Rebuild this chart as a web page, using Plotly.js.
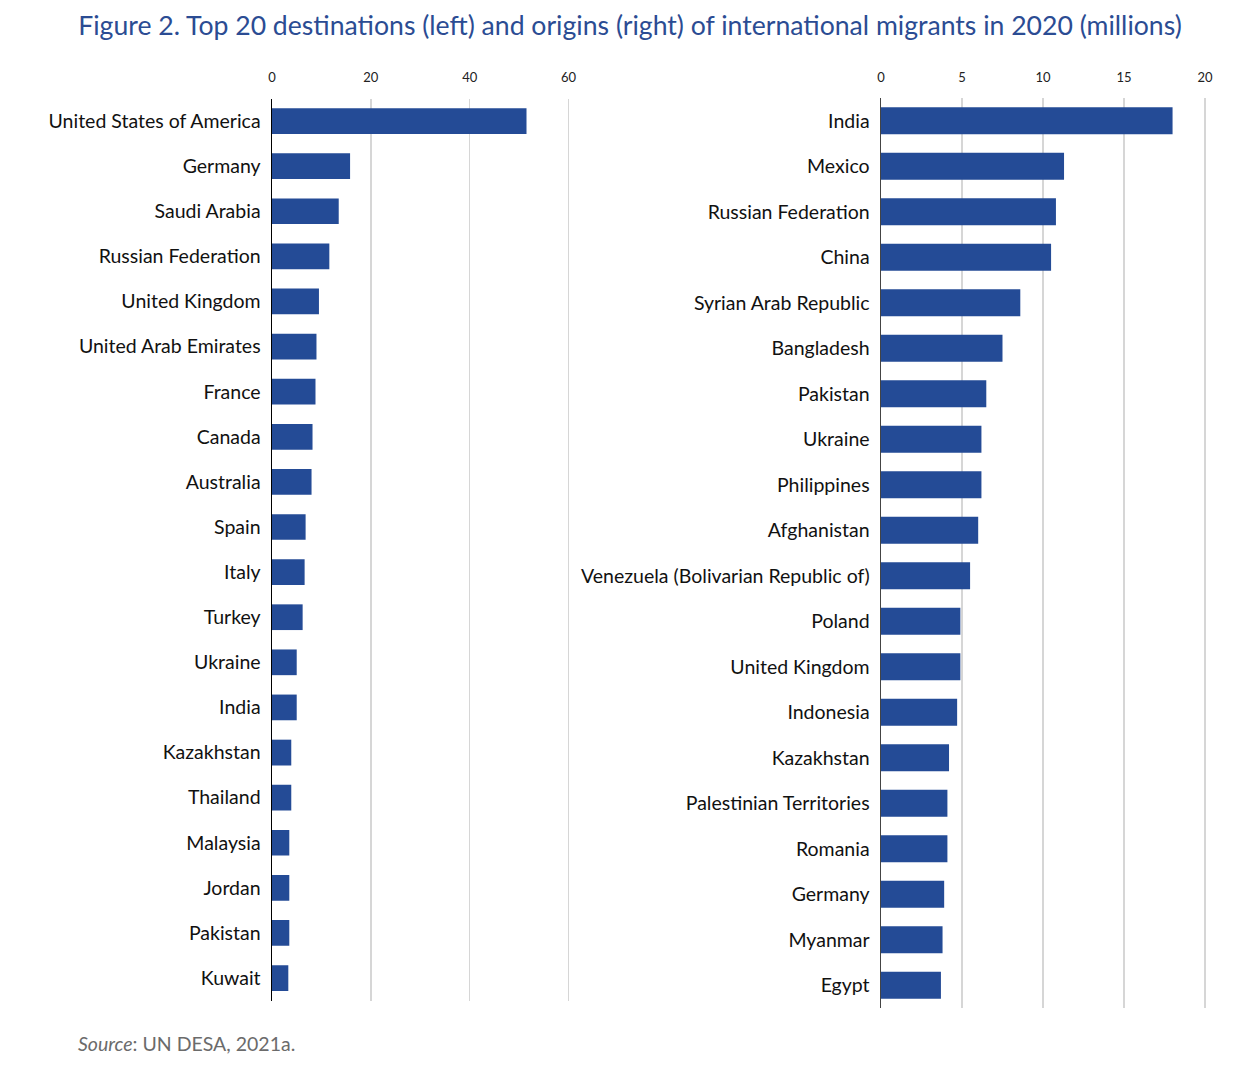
<!DOCTYPE html>
<html>
<head>
<meta charset="utf-8">
<script src="https://cdn.plot.ly/plotly-3.0.1.min.js"></script>
<style>
html,body{margin:0;padding:0;background:#fff;}
#chart{width:1260px;height:1074px;}
</style>
</head>
<body>
<div id="chart"></div>
<script>
var destinations = ["United States of America","Germany","Saudi Arabia","Russian Federation","United Kingdom","United Arab Emirates","France","Canada","Australia","Spain","Italy","Turkey","Ukraine","India","Kazakhstan","Thailand","Malaysia","Jordan","Pakistan","Kuwait"];
var destValues = [51.5,15.8,13.5,11.6,9.5,9.0,8.8,8.2,8.0,6.8,6.6,6.2,5.0,5.0,3.9,3.9,3.5,3.5,3.5,3.3];

var origins = ["India","Mexico","Russian Federation","China","Syrian Arab Republic","Bangladesh","Pakistan","Ukraine","Philippines","Afghanistan","Venezuela (Bolivarian Republic of)","Poland","United Kingdom","Indonesia","Kazakhstan","Palestinian Territories","Romania","Germany","Myanmar","Egypt"];
var originValues = [18.0,11.3,10.8,10.5,8.6,7.5,6.5,6.2,6.2,6.0,5.5,4.9,4.9,4.7,4.2,4.1,4.1,3.9,3.8,3.7];

var leftTicks = [0,20,40,60];
var rightTicks = [0,5,10,15,20];

var barColor = "#244b96";
var font = "Lato, 'Open Sans', sans-serif";

var traces = [
  {type:"bar", orientation:"h", x:destValues, y:destinations, xaxis:"x", yaxis:"y",
   marker:{color:barColor}, width:0.57, hoverinfo:"x+y"},
  {type:"bar", orientation:"h", x:originValues, y:origins, xaxis:"x2", yaxis:"y2",
   marker:{color:barColor}, width:0.59, hoverinfo:"x+y"}
];

var layout = {
  width:1260, height:1074,
  margin:{l:0,r:0,t:0,b:0},
  paper_bgcolor:"#fff", plot_bgcolor:"#fff",
  showlegend:false,
  font:{family:font, color:"#111"},
  xaxis:{domain:[272/1260, 570/1260], range:[0,60.3], side:"top", tickvals:leftTicks,
    showgrid:true, gridcolor:"#d6d6d6", gridwidth:1.5, zeroline:false, showline:false,
    ticks:"outside", ticklen:10, tickcolor:"rgba(0,0,0,0)", tickfont:{size:13, color:"#222"}, fixedrange:true},
  yaxis:{domain:[(1074-1000.6)/1074, (1074-98.5)/1074], type:"category", categoryorder:"array",
    categoryarray:destinations, autorange:"reversed", showline:true, linecolor:"#000", linewidth:1.5,
    showgrid:false, ticks:"", ticklabelstandoff:6, tickfont:{size:19.5, color:"#111"}, fixedrange:true, anchor:"x"},
  xaxis2:{domain:[881/1260, 1208.2/1260], range:[0,20.2], side:"top", tickvals:rightTicks, anchor:"y2",
    showgrid:true, gridcolor:"#d6d6d6", gridwidth:1.5, zeroline:false, showline:false,
    ticks:"outside", ticklen:10, tickcolor:"rgba(0,0,0,0)", tickfont:{size:13, color:"#222"}, fixedrange:true},
  yaxis2:{domain:[(1074-1008)/1074, (1074-98)/1074], type:"category", categoryorder:"array",
    categoryarray:origins, autorange:"reversed", showline:true, linecolor:"#444", linewidth:1.5,
    showgrid:false, ticks:"", ticklabelstandoff:6, tickfont:{size:19.5, color:"#111"}, fixedrange:true, anchor:"x2"},
  title:{text:"Figure 2. Top 20 destinations (left) and origins (right) of international migrants in 2020 (millions)",
    font:{family:font, size:26.6, color:"#2b4c93"}, x:0.5, xanchor:"center", y:1-26/1074, yanchor:"middle", yref:"paper"},
  annotations:[
    {text:"<i>Source</i>: UN DESA, 2021a.", xref:"paper", yref:"paper", x:76/1260, y:1-1043/1074,
     xanchor:"left", yanchor:"middle", showarrow:false, font:{family:font, size:19.5, color:"#6b6b6b"}}
  ]
};

Plotly.newPlot("chart", traces, layout, {displayModeBar:false, staticPlot:true});
</script>
</body>
</html>
